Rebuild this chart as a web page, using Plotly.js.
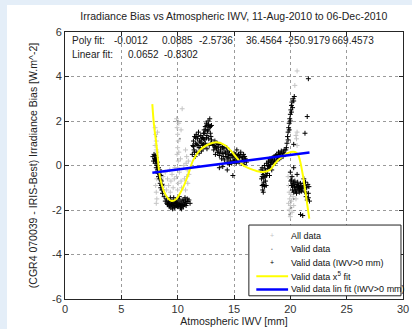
<!DOCTYPE html>
<html><head><meta charset="utf-8">
<script src="https://cdn.plot.ly/plotly-3.0.1.min.js"></script>
<style>
html,body{margin:0;padding:0;background:#e4eef8;width:412px;height:329px;overflow:hidden;}
#chart{position:absolute;left:7px;top:5px;width:405px;height:324px;background:#fff;}
</style></head><body><div id="chart"></div>
<script>
// ---- data ----
var allX = [8.0,8.05,8.1,8.0,8.1,8.15,8.05,8.1,8.15,8.1,8.2,8.15,
 8.7,8.8,8.9,9.0,9.1,9.2,9.3,9.35,9.4,9.5,9.6,9.7,9.75,
 9.9,9.95,10.0,10.05,10.0,9.95,10.05,10.0,9.9,10.05,10.0,10.1,10.1,10.15,10.4,10.3,10.3,10.35,10.25,
 10.7,10.8,10.75,10.85,10.8,10.9,10.7,10.95,11.0,10.6,10.55,
 19.8,19.85,19.9,19.95,20.0,19.9,20.05,20.1,20.15,20.2,20.25,20.3,20.0,20.4,20.5,19.85,
 20.6,20.55,20.6,20.5,20.6,20.4];
var allY = [1.7,1.4,1.1,0.9,0.7,-0.6,-0.9,-1.2,-1.5,-1.7,1.5,0.6,
 -0.5,-0.9,-0.3,-1.1,-0.6,-0.9,-0.2,-1.2,-0.7,-0.4,-1.0,-0.6,-0.1,
 2.1,1.7,1.4,1.1,0.8,0.5,0.2,-0.1,-0.5,-0.8,-1.1,1.9,0.6,-0.3,2.55,1.6,-0.7,-1.0,0.3,
 0.7,0.4,0.1,-0.2,-0.5,-0.8,-1.1,0.2,-0.4,-0.6,0.0,
 -0.5,-0.9,-1.2,-1.5,-1.8,-2.0,-1.3,-1.6,-2.1,-1.0,-1.4,-1.8,-2.3,-1.2,-1.5,-1.7,
 1.5,1.2,0.9,1.35,4.25,3.6];

var validX = [10.0,10.2,20.1,20.3,19.9,8.1];
var validY = [2.0,1.2,-1.9,-1.5,-2.2,1.3];

var posX = [7.8,7.85,7.9,7.95,8.0,8.0,8.05,8.1,8.1,8.15,8.2,8.2,8.25,8.3,8.3,8.35,8.4,8.4,8.45,8.5,8.5,8.55,8.6,8.6,8.65,
 8.0,8.1,8.2,8.3,8.4,8.5,8.55,
 8.8,8.9,9.0,9.1,9.2,9.25,9.3,9.4,9.45,9.5,9.55,9.6,9.7,9.75,9.8,9.85,9.9,10.0,10.05,10.1,10.2,10.25,10.3,10.4,10.45,10.5,10.6,10.65,10.7,10.8,10.85,10.9,11.0,11.1,9.35,9.65,10.15,10.35,
 9.15,9.3,9.5,9.6,9.7,9.9,10.0,10.1,10.3,10.5,10.55,10.75,9.05,9.4,9.8,10.2,
 11.3,11.35,11.4,11.45,11.5,11.55,11.6,11.65,11.7,11.75,11.8,11.85,11.9,11.95,12.0,12.05,12.1,12.15,12.2,12.25,12.3,12.35,12.4,12.45,12.5,12.55,12.6,12.65,12.7,12.75,12.8,12.85,12.9,12.95,13.0,12.6,12.8,12.3,
 11.4,11.5,11.6,11.7,11.8,11.9,12.0,12.1,12.2,12.3,12.4,12.5,12.55,12.6,12.7,12.75,12.9,12.95,13.0,12.45,
 13.1,13.2,13.3,13.35,13.4,13.5,13.55,13.6,13.7,13.75,13.8,13.9,13.95,14.0,14.1,14.15,14.2,14.3,14.35,14.4,14.5,14.55,14.6,14.7,14.75,14.8,14.9,15.0,15.05,15.1,15.2,15.25,15.3,15.4,15.45,15.5,15.6,15.65,15.7,15.8,15.85,15.9,16.0,16.1,14.0,13.7,14.9,14.4,
 13.2,13.3,13.45,13.6,13.65,13.85,14.0,14.05,14.25,14.4,14.45,14.65,14.85,14.95,15.15,15.35,15.55,15.75,15.95,16.05,14.6,15.2,
 17.4,17.45,17.5,17.5,17.55,17.6,17.65,17.7,17.75,17.8,17.85,17.9,17.95,18.0,18.05,18.1,18.15,18.2,18.25,18.3,18.35,18.4,18.5,18.55,18.6,18.7,18.75,18.8,18.9,18.95,19.0,19.1,19.15,19.2,19.3,19.4,19.5,19.6,17.6,17.7,
 17.55,17.65,17.75,17.8,17.9,18.0,18.1,18.2,18.3,18.45,18.6,18.65,18.85,19.0,19.05,19.25,19.35,19.45,17.5,17.6,
 19.65,19.7,19.75,19.8,19.8,19.85,19.9,19.9,19.95,20.0,20.0,20.05,20.1,20.1,20.15,20.2,20.25,20.3,20.35,20.3,21.5,21.3,21.6,
 20.0,20.05,20.1,20.15,20.2,20.25,20.3,20.35,20.4,20.45,20.5,20.55,20.6,20.65,20.7,20.75,20.8,20.85,20.9,20.95,21.0,21.1,21.2,21.25,21.3,21.35,21.4,21.45,21.5,21.55,21.6,21.7,20.9,21.1,20.3,20.6,
 20.1,20.2,20.3,20.4,20.5,20.6,20.7,20.8,20.9,21.0,21.15,21.3,21.45,21.6,21.65];
var posY = [0.4,0.2,0.5,0.3,0.1,0.45,0.25,-0.1,0.35,0.0,-0.2,0.15,-0.35,-0.1,-0.5,-0.3,-0.6,-0.2,-0.8,-0.45,-1.0,-0.7,-1.1,-0.85,-1.25,
 0.3,0.2,0.0,-0.3,-0.4,-0.65,-0.9,
 -1.4,-1.6,-1.5,-1.75,-1.6,-1.85,-1.7,-1.9,-1.75,-1.6,-1.95,-1.8,-1.7,-1.9,-1.55,-1.8,-1.65,-1.85,-1.5,-1.75,-1.6,-1.9,-1.7,-1.55,-1.8,-1.65,-1.75,-1.45,-1.6,-1.7,-1.5,-1.62,-1.55,-1.7,-1.45,-1.45,-1.4,-1.95,
 -1.65,-1.8,-1.75,-1.65,-1.85,-1.8,-1.7,-1.85,-1.8,-1.85,-1.55,-1.8,-1.7,-1.62,-1.72,-1.75,
 0.5,0.9,1.1,0.7,1.3,0.4,1.0,1.4,0.6,1.2,0.9,1.5,0.55,1.1,0.8,1.35,0.65,1.0,1.25,0.75,1.45,1.6,1.15,1.75,0.9,1.9,1.35,1.55,2.0,1.2,1.7,2.1,1.45,1.0,1.8,0.75,0.9,0.95,
 0.85,0.6,1.25,0.95,1.3,0.8,1.05,1.2,0.9,1.2,1.45,1.6,1.25,1.8,1.6,1.85,1.75,1.3,1.15,1.0,
 0.95,0.7,1.1,0.5,0.85,1.0,0.6,0.8,0.45,0.95,0.7,0.3,0.85,0.55,0.75,0.25,0.6,0.4,0.8,0.15,0.5,0.3,0.65,0.2,0.45,0.1,0.35,0.55,0.2,0.4,0.1,0.7,0.3,0.5,0.15,0.35,0.6,0.1,0.4,0.25,0.5,0.05,0.3,0.15,-0.05,-0.1,-0.45,-0.2,
 0.9,0.8,0.75,0.95,0.6,0.55,0.8,0.4,0.55,0.65,0.35,0.45,0.5,0.2,0.5,0.45,0.5,0.35,0.4,0.25,0.05,0.25,
 -0.2,-0.6,-0.9,-0.1,-1.1,-0.4,-0.75,0.0,-0.5,-0.25,-0.9,0.1,-0.35,-0.15,0.2,-0.05,-0.45,0.3,0.05,0.15,-0.2,0.35,0.1,0.4,0.25,0.45,0.2,0.5,0.3,0.6,0.4,0.55,0.35,0.65,0.45,0.6,0.5,0.7,-1.2,-0.95,
 -0.3,-0.55,-0.15,-0.7,-0.45,0.0,0.15,-0.1,0.25,0.2,0.35,0.1,0.4,0.5,0.3,0.55,0.4,0.7,-0.5,-0.85,
 0.8,1.0,1.3,1.15,1.5,1.7,1.9,1.6,2.1,2.3,2.0,2.5,2.4,2.7,2.85,2.6,3.0,2.9,3.1,0.95,2.2,1.45,3.9,
 -0.3,-0.7,-0.9,-0.5,-1.1,-0.8,-1.2,-0.95,-0.7,-1.15,-0.85,-1.25,-1.0,-0.75,-1.1,-0.9,-1.2,-1.0,-0.8,-1.15,-0.95,-1.05,-0.6,-0.9,-1.2,-0.75,-1.4,-1.0,-1.55,-0.85,-1.25,-1.6,-2.2,-2.25,-0.1,-0.4,
 -0.65,-0.9,-0.75,-1.0,-1.1,-0.85,-0.95,-1.05,-1.0,-1.15,-0.8,-1.0,-1.25,-1.45,-0.95];

var fitX = [7.75,7.9,8.14,8.43,8.78,9.14,9.47,9.85,10.5,10.91,11.38,11.98,12.57,13.46,14.2,14.93,15.82,16.4,16.95,17.6,18.19,18.63,19.08,19.81,20.41,20.67,20.85,21.14,21.45,21.68];
var fitY = [2.76,1.81,0.84,-0.52,-1.16,-1.48,-1.6,-1.52,-0.97,-0.44,0.24,0.69,0.91,1.05,0.91,0.54,0.01,-0.14,-0.24,-0.29,-0.2,0.08,0.31,0.57,0.61,0.5,0.24,-0.52,-1.57,-2.39];

var linX = [7.75,21.7];
var linY = [-0.325,0.585];

var polyCoefs = ["-0.0012","0.0885","-2.5736","36.4564","-250.9179","669.4573"];
var polyPos = [5.86,9.98,13.4,17.75,21.52,25.55];
var linCoefs = ["0.0652","-0.8302"];
var linPos = [6.97,10.29];

var xTicks = [0,5,10,15,20,25,30];
var yTicks = [-6,-4,-2,0,2,4,6];

var legendNames = ["All data","Valid data","Valid data (IWV>0 mm)","Valid data x<sup>5</sup> fit","Valid data lin fit (IWV>0 mm)"];

// ---- chart ----
var FONT = "Liberation Sans, Arial, Helvetica, sans-serif";
var traces = [
 {x:allX,y:allY,mode:"markers",type:"scatter",name:legendNames[0],
  marker:{symbol:"cross-thin",size:3.5,line:{color:"#c4c4c4",width:1},color:"#c4c4c4"}},
 {x:validX,y:validY,mode:"markers",type:"scatter",name:legendNames[1],
  marker:{symbol:"circle",size:2,color:"#8a8a8a"}},
 {x:posX,y:posY,mode:"markers",type:"scatter",name:legendNames[2],
  marker:{symbol:"cross-thin",size:3.5,line:{color:"#000",width:1},color:"#000"}},
 {x:fitX,y:fitY,mode:"lines",type:"scatter",name:legendNames[3],line:{color:"#ffff00",width:2,shape:"spline"}},
 {x:linX,y:linY,mode:"lines",type:"scatter",name:legendNames[4],line:{color:"#0000ff",width:2.5}}
];

var ann = [];
var TF = {family:FONT,size:10,color:"#222"};
ann.push({text:"Poly fit:",x:0.45,y:5.64,xref:"x",yref:"y",xanchor:"left",yanchor:"middle",showarrow:false,font:TF});
ann.push({text:"Linear fit:",x:0.45,y:5.01,xref:"x",yref:"y",xanchor:"left",yanchor:"middle",showarrow:false,font:TF});
polyCoefs.forEach(function(t,i){ann.push({text:t,x:polyPos[i],y:5.64,xref:"x",yref:"y",xanchor:"center",yanchor:"middle",showarrow:false,font:TF});});
linCoefs.forEach(function(t,i){ann.push({text:t,x:linPos[i],y:5.01,xref:"x",yref:"y",xanchor:"center",yanchor:"middle",showarrow:false,font:TF});});

// manual legend (paper coords of plot area)
var lgL=0.544, lgR=0.994, lgT=0.277, lgB=0.012;
var rows=[0.236,0.186,0.135,0.085,0.036];
var shapes=[{type:"rect",xref:"paper",yref:"paper",x0:lgL,x1:lgR,y0:lgB,y1:lgT,line:{color:"#222",width:1},fillcolor:"#fff",layer:"above"}];
shapes.push({type:"line",xref:"paper",yref:"paper",x0:0.566,x1:0.66,y0:rows[3],y1:rows[3],line:{color:"#ffff00",width:2},layer:"above"});
shapes.push({type:"line",xref:"paper",yref:"paper",x0:0.566,x1:0.66,y0:rows[4],y1:rows[4],line:{color:"#0000ff",width:2.5},layer:"above"});
var mk=[["+","#c4c4c4",7],["\u2022","#8a8a8a",5],["+","#000",7]];
mk.forEach(function(m,i){ann.push({text:m[0],x:0.613,y:rows[i],xref:"paper",yref:"paper",showarrow:false,xanchor:"center",yanchor:"middle",font:{family:FONT,size:m[2],color:m[1]}});});
legendNames.forEach(function(t,i){ann.push({text:t,x:0.662,y:rows[i],xref:"paper",yref:"paper",showarrow:false,xanchor:"left",yanchor:"middle",font:{family:FONT,size:9,color:"#111"}});});

var axisCommon = {showgrid:true,gridcolor:"#9a9a9a",griddash:"dot",gridwidth:1,zeroline:false,
  showline:true,linecolor:"#262626",linewidth:1,mirror:"ticks",ticks:"inside",ticklen:4,tickcolor:"#262626",
  tickfont:{family:FONT,size:11,color:"#333"}};

var layout = {
 width:405,height:324,paper_bgcolor:"#fff",plot_bgcolor:"#fff",showlegend:false,
 margin:{l:58,r:9,t:27,b:30},
 title:{text:"Irradiance Bias vs Atmospheric IWV, 11-Aug-2010 to 06-Dec-2010",font:{family:FONT,size:10.5,color:"#222"},x:0.56,xanchor:"center",y:0.965,yanchor:"middle"},
 xaxis:Object.assign({},axisCommon,{range:[0,30],tickvals:xTicks,ticktext:xTicks.map(String),
   title:{text:"Atmospheric IWV [mm]",font:{family:FONT,size:10.5,color:"#222"},standoff:2}}),
 yaxis:Object.assign({},axisCommon,{range:[-6,6],tickvals:yTicks,ticktext:yTicks.map(String),
   title:{text:"(CGR4 070039 - IRIS-Best) Irradiance Bias [W.m^-2]",font:{family:FONT,size:10.5,color:"#222"},standoff:12}}),
 annotations:ann, shapes:shapes
};
Plotly.newPlot("chart",traces,layout,{staticPlot:true,displayModeBar:false});
</script></body></html>
